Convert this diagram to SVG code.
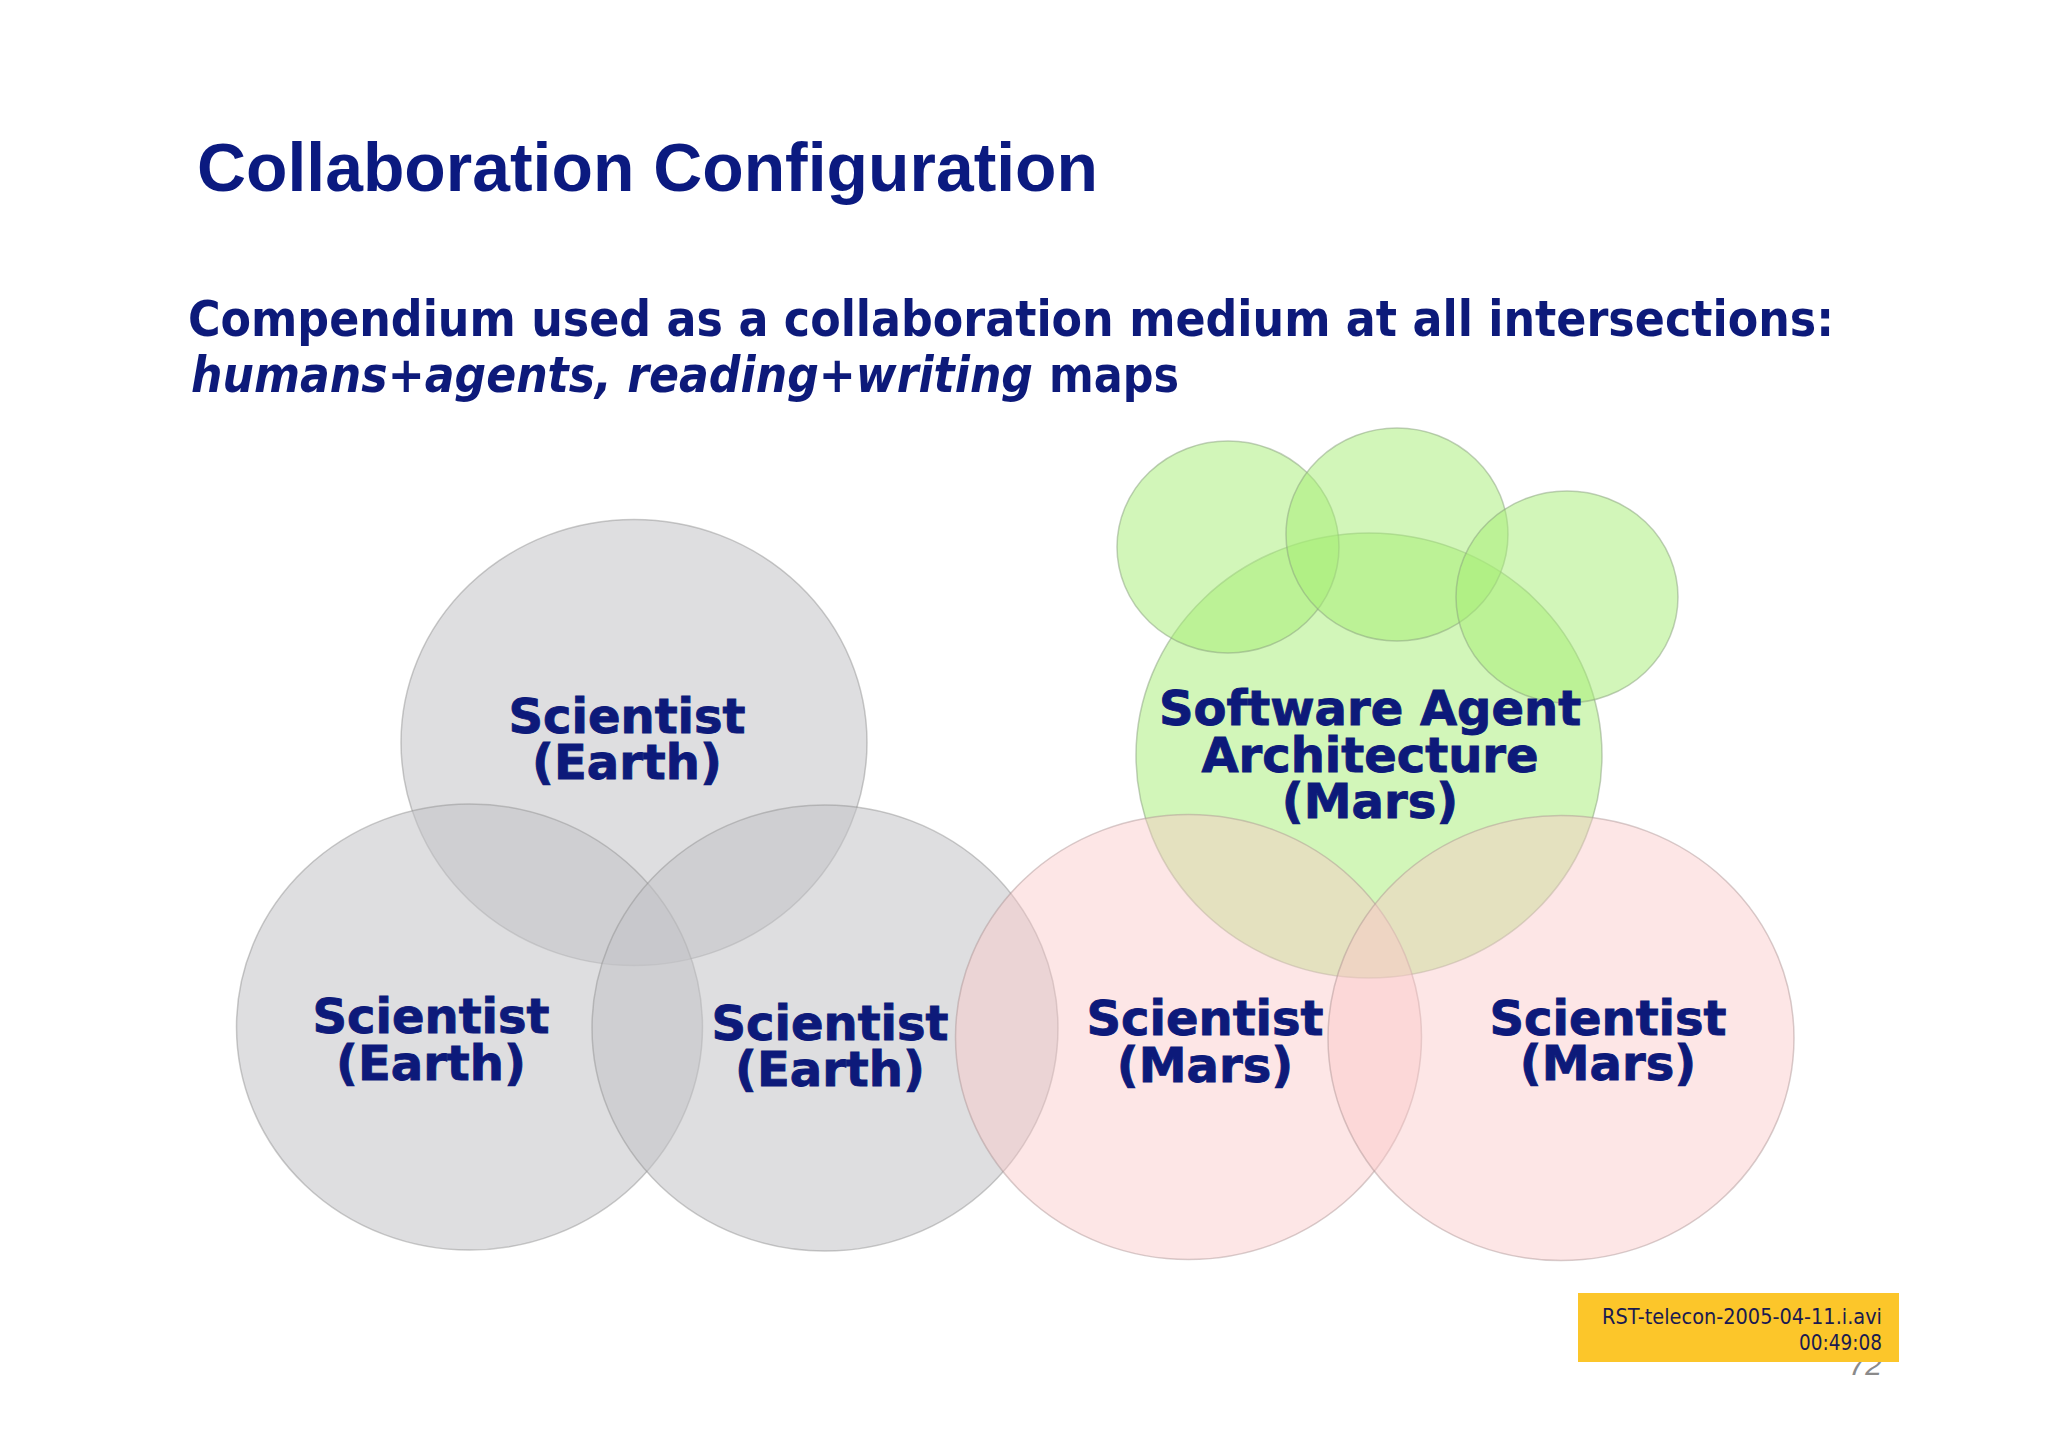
<svg xmlns="http://www.w3.org/2000/svg" width="2048" height="1447" viewBox="0 0 2048 1447">
  <style>
    .gray { fill: #c2c2c7; fill-opacity: 0.55; stroke: #8c8c8c; stroke-opacity: 0.45; stroke-width: 1.5; }
    .green { fill: #a6ee74; fill-opacity: 0.5; stroke: #8aa080; stroke-opacity: 0.5; stroke-width: 1.5; }
    .pink { fill: #fbc8c8; fill-opacity: 0.45; stroke: #a89090; stroke-opacity: 0.45; stroke-width: 1.5; }
    .lbl { font-family: "DejaVu Sans", Verdana, sans-serif; font-weight: bold; font-size: 48px; fill: #0d1a7a; stroke: #0d1a7a; stroke-width: 0.9; text-anchor: middle; }
    .title { font-family: "Liberation Sans", Arial, sans-serif; font-weight: bold; font-size: 69px; fill: #0b1a80; }
    .sub { font-family: "DejaVu Sans", sans-serif; font-stretch: condensed; font-weight: bold; font-size: 50px; fill: #0d1a7a; }
    .tag { font-family: "DejaVu Sans", Tahoma, sans-serif; font-size: 21px; fill: #1a1a50; text-anchor: end; }
  </style>
  <rect x="0" y="0" width="2048" height="1447" fill="#ffffff"/>

  <text class="title" x="197" y="191" textLength="901" lengthAdjust="spacingAndGlyphs">Collaboration Configuration</text>

  <text class="sub" x="188" y="336" textLength="1646" lengthAdjust="spacingAndGlyphs">Compendium used as a collaboration medium at all intersections:</text>
  <text class="sub" y="392"><tspan x="191" font-style="italic" textLength="842" lengthAdjust="spacingAndGlyphs">humans+agents, reading+writing</tspan><tspan x="1049" textLength="130" lengthAdjust="spacingAndGlyphs">maps</tspan></text>

  <g id="earth-top">
    <ellipse class="gray" cx="634" cy="742.5" rx="233" ry="223"/>
    <text class="lbl" x="627" y="733">Scientist</text>
    <text class="lbl" x="627" y="779">(Earth)</text>
  </g>
  <g id="earth-left">
    <ellipse class="gray" cx="469.5" cy="1027" rx="233" ry="223"/>
  </g>
  <g id="earth-right">
    <ellipse class="gray" cx="825" cy="1028" rx="233" ry="223"/>
  </g>

  <g id="agent-architecture">
    <ellipse class="green" cx="1369" cy="755.5" rx="233" ry="222.5"/>
  </g>
  <g id="agent-1">
    <ellipse class="green" cx="1228" cy="547" rx="111" ry="106"/>
  </g>
  <g id="agent-2">
    <ellipse class="green" cx="1397" cy="534.5" rx="111" ry="106.5"/>
  </g>
  <g id="agent-3">
    <ellipse class="green" cx="1567" cy="597" rx="111" ry="106"/>
  </g>

  <g id="mars-left">
    <ellipse class="pink" cx="1188.5" cy="1037" rx="233" ry="222.5"/>
  </g>
  <g id="mars-right">
    <ellipse class="pink" cx="1561" cy="1038" rx="233" ry="222.5"/>
  </g>

  <g id="labels">
    <text class="lbl" x="431" y="1033">Scientist</text>
    <text class="lbl" x="431" y="1080">(Earth)</text>
    <text class="lbl" x="830" y="1040">Scientist</text>
    <text class="lbl" x="830" y="1086">(Earth)</text>
    <text class="lbl" x="1370" y="725">Software Agent</text>
    <text class="lbl" x="1370" y="772">Architecture</text>
    <text class="lbl" x="1370" y="818">(Mars)</text>
    <text class="lbl" x="1205" y="1035">Scientist</text>
    <text class="lbl" x="1205" y="1082">(Mars)</text>
    <text class="lbl" x="1608" y="1035">Scientist</text>
    <text class="lbl" x="1608" y="1080">(Mars)</text>
  </g>

  <g id="connectors"/>

  <text x="1882" y="1375" font-family="Liberation Sans, Arial, sans-serif" font-style="italic" font-size="30" fill="#8a8a8a" text-anchor="end">72</text>
  <g id="video-tag">
    <rect x="1578" y="1293" width="321" height="69" fill="#fcc62a"/>
    <text class="tag" x="1882" y="1324" textLength="280" lengthAdjust="spacingAndGlyphs">RST-telecon-2005-04-11.i.avi</text>
    <text class="tag" x="1882" y="1350" textLength="83" lengthAdjust="spacingAndGlyphs">00:49:08</text>
  </g>
</svg>
